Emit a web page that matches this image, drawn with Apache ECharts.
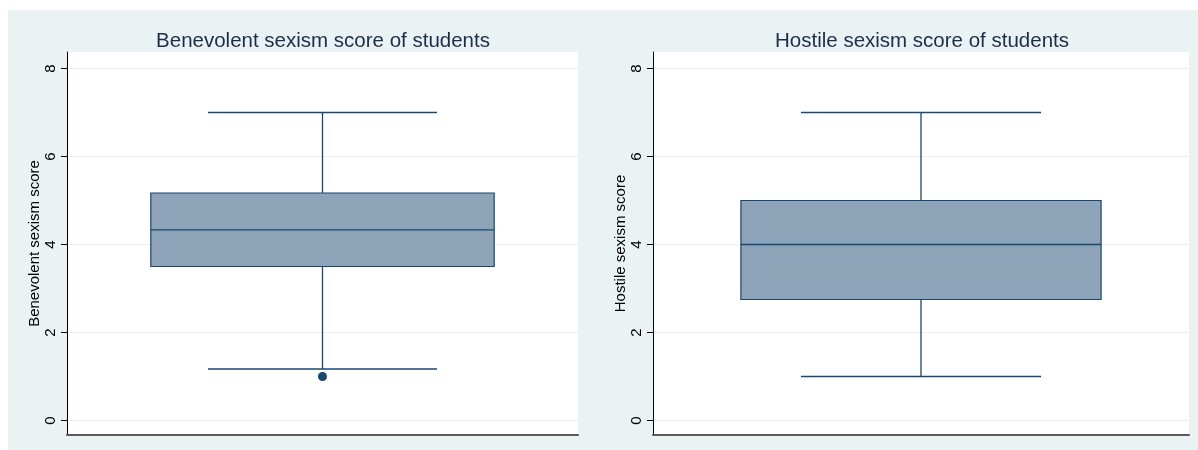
<!DOCTYPE html>
<html>
<head>
<meta charset="utf-8">
<title>Sexism scores of students</title>
<script src="https://cdn.jsdelivr.net/npm/echarts@6/dist/echarts.min.js"></script>
<style>
  html, body { margin: 0; padding: 0; background: #ffffff; }
  #chart { width: 1198px; height: 450px; }
</style>
</head>
<body>
<div id="chart"></div>
<script>
// Panel titles and axis names
const panelTitles = ['Benevolent sexism score of students', 'Hostile sexism score of students'];
const axisNames = ['Benevolent sexism score', 'Hostile sexism score'];

// Box statistics: [lower whisker, Q1, median, Q3, upper whisker]
const benevolentBox = [1.17, 3.5, 4.33, 5.17, 7];
const hostileBox = [1, 2.75, 4, 5, 7];

// Points beyond the whiskers
const benevolentOutliers = [1];
const hostileOutliers = [];

// Y-axis tick values
const yTicks = [0, 2, 4, 6, 8];

const FONT = '"Liberation Sans", Arial, Helvetica, sans-serif';
const NAVY = '#1a476f';
const BOX_FILL = '#8da3b8';
const PANEL_BG = '#eaf2f3';
const BOX_FRAC = 0.672;   // box width as a share of the plot width
const CAP_FRAC = 0.448;   // whisker cap width as a share of the plot width

function renderBox(params, api) {
  const lo = api.value(1), q1 = api.value(2), med = api.value(3), q3 = api.value(4), hi = api.value(5);
  const band = api.size([1, 0])[0];
  const cx = api.coord([0, med])[0];
  const yLo = api.coord([0, lo])[1];
  const yQ1 = api.coord([0, q1])[1];
  const yMed = api.coord([0, med])[1];
  const yQ3 = api.coord([0, q3])[1];
  const yHi = api.coord([0, hi])[1];
  const bw = band * BOX_FRAC / 2;
  const cw = band * CAP_FRAC / 2;
  const lineStyle = { stroke: NAVY, lineWidth: 1.3 };
  return {
    type: 'group',
    children: [
      { type: 'line', shape: { x1: cx, y1: yHi, x2: cx, y2: yQ3 }, style: lineStyle },
      { type: 'line', shape: { x1: cx, y1: yQ1, x2: cx, y2: yLo }, style: lineStyle },
      { type: 'line', shape: { x1: cx - cw, y1: yHi, x2: cx + cw, y2: yHi }, style: lineStyle },
      { type: 'line', shape: { x1: cx - cw, y1: yLo, x2: cx + cw, y2: yLo }, style: lineStyle },
      { type: 'rect', shape: { x: cx - bw, y: yQ3, width: 2 * bw, height: yQ1 - yQ3 },
        style: { fill: BOX_FILL, stroke: NAVY, lineWidth: 1.2 } },
      { type: 'line', shape: { x1: cx - bw, y1: yMed, x2: cx + bw, y2: yMed }, style: lineStyle }
    ]
  };
}

const grids = [
  { left: 67, top: 52, width: 511, bottom: 15 },
  { left: 653, top: 52, width: 536, bottom: 15 }
];
const titleCenters = [318, 917];
const boxes = [benevolentBox, hostileBox];
const outliers = [benevolentOutliers, hostileOutliers];

const option = {
  backgroundColor: '#ffffff',
  animation: false,
  graphic: [{
    type: 'rect', z: -10, silent: true,
    shape: { x: 8, y: 10, width: 1190, height: 440 },
    style: { fill: PANEL_BG }
  }],
  title: panelTitles.map((t, i) => ({
    text: t,
    left: titleCenters[i],
    top: 26,
    textAlign: 'center',
    textStyle: { fontFamily: FONT, fontSize: 20.5, fontWeight: 'normal', color: '#1e2c4c' }
  })),
  grid: grids.map(g => Object.assign({ show: true, backgroundColor: '#ffffff', borderWidth: 0, containLabel: false }, g)),
  xAxis: axisNames.map((n, i) => ({
    type: 'category',
    gridIndex: i,
    data: [n],
    axisLine: { show: true, onZero: false, lineStyle: { color: '#5a5a5a', width: 2 } },
    axisTick: { show: false },
    axisLabel: { show: false },
    splitLine: { show: false }
  })),
  yAxis: axisNames.map((n, i) => ({
    type: 'value',
    gridIndex: i,
    min: -0.33,
    max: 8.375,
    name: n,
    nameLocation: 'middle',
    nameRotate: 90,
    nameGap: 24,
    nameTextStyle: { fontFamily: FONT, fontSize: 15, color: '#000000' },
    axisLine: { show: true, onZero: false, lineStyle: { color: '#000000', width: 1 } },
    axisTick: { show: true, length: 6, customValues: yTicks, lineStyle: { color: '#000000' } },
    axisLabel: {
      show: true, customValues: yTicks, rotate: 90, margin: 9,
      fontFamily: FONT, fontSize: 15, color: '#000000'
    },
    splitLine: { show: true, lineStyle: { color: PANEL_BG, width: 1 } }
  })),
  series: []
};

boxes.forEach((b, i) => {
  option.series.push({
    type: 'custom',
    xAxisIndex: i,
    yAxisIndex: i,
    renderItem: renderBox,
    encode: { x: 0, y: [1, 2, 3, 4, 5] },
    data: [[0].concat(b)]
  });
  option.series.push({
    type: 'scatter',
    xAxisIndex: i,
    yAxisIndex: i,
    symbol: 'circle',
    symbolSize: 9,
    itemStyle: { color: NAVY, opacity: 1 },
    data: outliers[i].map(v => [0, v])
  });
});

const chart = echarts.init(document.getElementById('chart'), null, { renderer: 'canvas' });
chart.setOption(option);
</script>
</body>
</html>
